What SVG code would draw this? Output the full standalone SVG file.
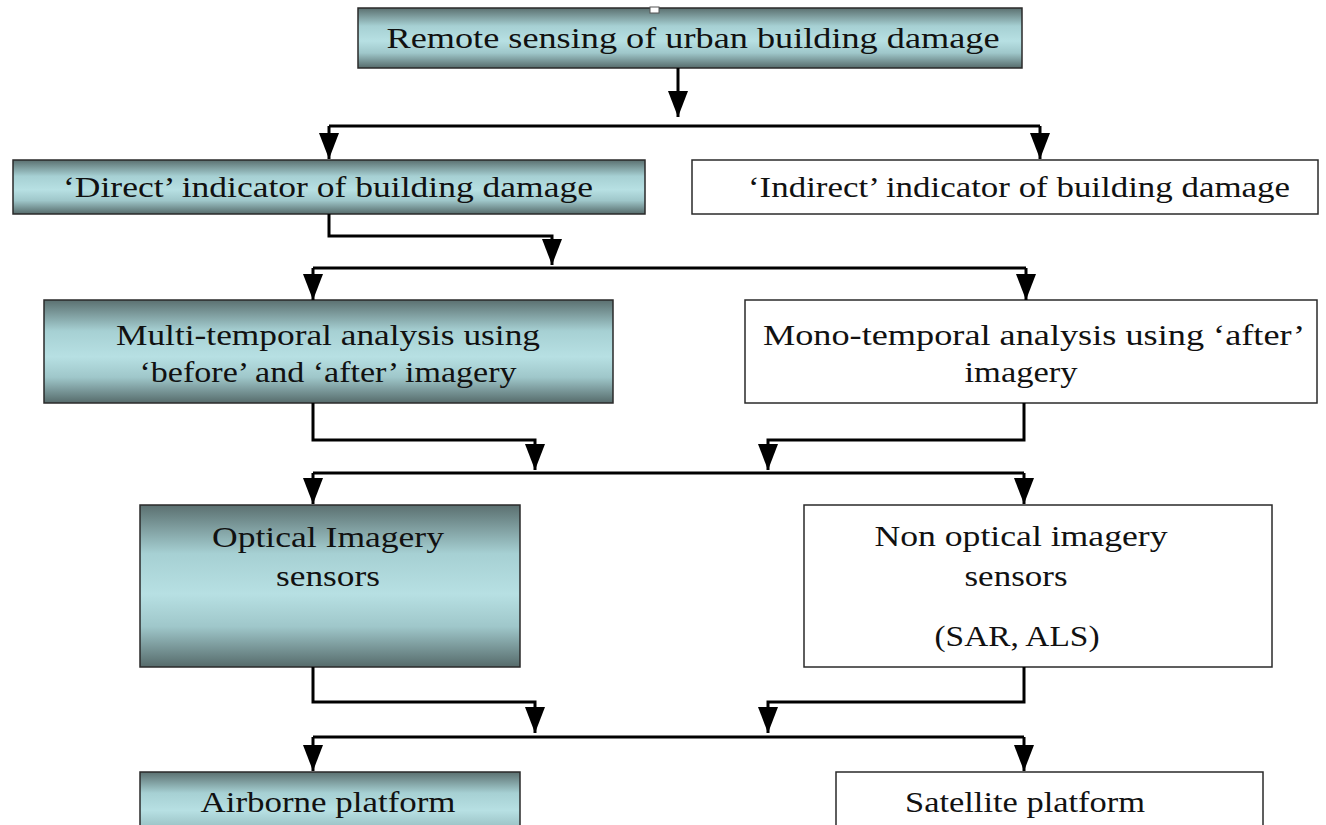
<svg xmlns="http://www.w3.org/2000/svg" width="1326" height="825" viewBox="0 0 1326 825">
<defs>
<linearGradient id="teal" x1="0" y1="0" x2="0" y2="1">
<stop offset="0" stop-color="#5b7070"/>
<stop offset="0.3" stop-color="#a6d0d3"/>
<stop offset="0.55" stop-color="#b7e0e3"/>
<stop offset="0.75" stop-color="#9fc7ca"/>
<stop offset="1" stop-color="#566b6b"/>
</linearGradient>
<marker id="arr" viewBox="0 0 26 20" refX="26" refY="10" markerWidth="26" markerHeight="20" markerUnits="userSpaceOnUse" orient="auto">
<path d="M0,0 L26,10 L0,20 z" fill="#000"/>
</marker>
<style>
.box{stroke:#2a2a2a;stroke-width:1.5}
.teal{fill:url(#teal)}
.white{fill:#fff}
.t{font-family:"Liberation Serif","DejaVu Serif",serif;font-size:29px;fill:#111;text-anchor:middle}
.c{fill:none;stroke:#000;stroke-width:3}
</style>
</defs>
<rect width="1326" height="825" fill="#fff"/>

<g id="n-remote">
<rect class="box teal" x="358" y="8" width="664" height="60"/>
<rect x="650" y="7" width="9" height="6" fill="#fff" stroke="#555" stroke-width="1"/>
<text class="t" x="693" y="48" textLength="613" lengthAdjust="spacingAndGlyphs">Remote sensing of urban building damage</text>
</g>

<g id="n-direct">
<rect class="box teal" x="13" y="160" width="632" height="54"/>
<text class="t" x="328" y="197" textLength="530" lengthAdjust="spacingAndGlyphs">‘Direct’ indicator of building damage</text>
</g>

<g id="n-indirect">
<rect class="box white" x="692" y="160" width="626" height="54"/>
<text class="t" x="1019" y="197" textLength="542" lengthAdjust="spacingAndGlyphs">‘Indirect’ indicator of building damage</text>
</g>

<g id="n-multi">
<rect class="box teal" x="44" y="300" width="569" height="103"/>
<text class="t" x="328" y="345" textLength="424" lengthAdjust="spacingAndGlyphs">Multi-temporal analysis using</text>
<text class="t" x="328" y="382" textLength="377" lengthAdjust="spacingAndGlyphs">‘before’ and ‘after’ imagery</text>
</g>

<g id="n-mono">
<rect class="box white" x="745" y="300" width="572" height="103"/>
<text class="t" x="1034" y="345" textLength="542" lengthAdjust="spacingAndGlyphs">Mono-temporal analysis using ‘after’</text>
<text class="t" x="1021" y="382" textLength="113" lengthAdjust="spacingAndGlyphs">imagery</text>
</g>

<g id="n-optical">
<rect class="box teal" x="140" y="505" width="380" height="162"/>
<text class="t" x="328" y="547" textLength="232" lengthAdjust="spacingAndGlyphs">Optical Imagery</text>
<text class="t" x="328" y="586" textLength="104" lengthAdjust="spacingAndGlyphs">sensors</text>
</g>

<g id="n-nonoptical">
<rect class="box white" x="804" y="505" width="468" height="162"/>
<text class="t" x="1021" y="546" textLength="293" lengthAdjust="spacingAndGlyphs">Non optical imagery</text>
<text class="t" x="1016" y="586" textLength="103" lengthAdjust="spacingAndGlyphs">sensors</text>
<text class="t" x="1017" y="646" textLength="165" lengthAdjust="spacingAndGlyphs">(SAR, ALS)</text>
</g>

<g id="n-airborne">
<rect class="box teal" x="140" y="772" width="380" height="70"/>
<text class="t" x="328" y="812" textLength="255" lengthAdjust="spacingAndGlyphs">Airborne platform</text>
</g>

<g id="n-satellite">
<rect class="box white" x="836" y="772" width="427" height="70"/>
<text class="t" x="1025" y="812" textLength="240" lengthAdjust="spacingAndGlyphs">Satellite platform</text>
</g>

<g id="connectors">
<path class="c" d="M678,68 V117" marker-end="url(#arr)"/>
<path class="c" d="M329,126 H1040"/>
<path class="c" d="M329,126 V159" marker-end="url(#arr)"/>
<path class="c" d="M1040,126 V159" marker-end="url(#arr)"/>
<path class="c" d="M329,214 V236 H552 V265" marker-end="url(#arr)"/>
<path class="c" d="M313,268 H1026"/>
<path class="c" d="M313,268 V300" marker-end="url(#arr)"/>
<path class="c" d="M1026,268 V300" marker-end="url(#arr)"/>
<path class="c" d="M313,403 V440 H535 V470" marker-end="url(#arr)"/>
<path class="c" d="M1024,403 V440 H768 V470" marker-end="url(#arr)"/>
<path class="c" d="M313,473 H1024"/>
<path class="c" d="M313,473 V504" marker-end="url(#arr)"/>
<path class="c" d="M1024,473 V504" marker-end="url(#arr)"/>
<path class="c" d="M313,667 V702 H535 V733" marker-end="url(#arr)"/>
<path class="c" d="M1024,667 V702 H768 V733" marker-end="url(#arr)"/>
<path class="c" d="M313,737 H1024"/>
<path class="c" d="M313,737 V771" marker-end="url(#arr)"/>
<path class="c" d="M1024,737 V771" marker-end="url(#arr)"/>
</g>
</svg>
